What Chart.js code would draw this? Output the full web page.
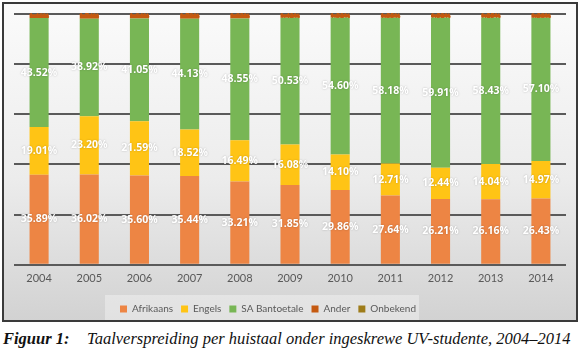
<!DOCTYPE html>
<html>
<head>
<meta charset="utf-8">
<script src="https://cdn.jsdelivr.net/npm/chart.js@4.4.1/dist/chart.umd.min.js"></script>
<style>
  html, body { margin: 0; padding: 0; background: #fff; }
  body { width: 580px; height: 350px; position: relative; overflow: hidden; }
  #box {
    position: absolute; left: 2px; top: 2px; width: 572px; height: 316px;
    border: 2px solid #3a3a3a;
    background: linear-gradient(to bottom, #fbfbfb 0%, #ececec 55%, #d2d2d2 100%);
  }
  #caption {
    position: absolute; left: 3px; top: 329px; white-space: nowrap;
    font-family: "Liberation Serif", "DejaVu Serif", serif; font-style: italic;
    font-size: 16.5px; color: #111;
  }
  #caption b { display: inline-block; width: 84px; }
</style>
</head>
<body>
<div id="box"><canvas id="chart" width="572" height="316"></canvas></div>
<div id="caption"><b>Figuur 1:</b>Taalverspreiding per huistaal onder ingeskrewe UV-studente, 2004–2014</div>
<script>
// years and share of students per home language (%)
var years = ["2004", "2005", "2006", "2007", "2008", "2009", "2010", "2011", "2012", "2013", "2014"];
var afrikaans = [35.89, 36.02, 35.60, 35.44, 33.21, 31.85, 29.86, 27.64, 26.21, 26.16, 26.43];
var engels = [19.01, 23.20, 21.59, 18.52, 16.49, 16.08, 14.10, 12.71, 12.44, 14.04, 14.97];
var bantoetale = [43.52, 38.92, 41.05, 44.13, 48.55, 50.53, 54.60, 58.18, 59.91, 58.43, 57.10];
var ander = [1.46, 1.74, 1.64, 1.79, 1.63, 1.42, 1.32, 1.35, 1.32, 1.25, 1.38];
var onbekend = [0.12, 0.12, 0.12, 0.12, 0.12, 0.12, 0.12, 0.12, 0.12, 0.12, 0.12];

// draws the percentage labels inside each segment
var barLabels = {
    id: "barLabels",
    afterDatasetsDraw: function (chart) {
        var ctx = chart.ctx;
        ctx.save();
        ctx.textAlign = "center";
        ctx.textBaseline = "middle";
        chart.data.datasets.forEach(function (ds, i) {
            var meta = chart.getDatasetMeta(i);
            if (i > 3) return;
            meta.data.forEach(function (bar, j) {
                var txt = ds.data[j].toFixed(2) + "%";
                if (i == 3) {
                    ctx.font = "bold 7px 'Open Sans'";
                    ctx.fillStyle = "#c55a11";
                    ctx.shadowBlur = 0;
                    ctx.fillText(txt, bar.x, bar.y + 2);
                } else {
                    ctx.font = "bold 10.5px 'Open Sans'";
                    ctx.fillStyle = "#ffffff";
                    ctx.shadowColor = "rgba(0,0,0,0.25)";
                    ctx.shadowBlur = 2;
                    ctx.fillText(txt, bar.x, (bar.y + bar.base) / 2);
                }
            });
        });
        ctx.restore();
    }
};

// nudge the legend a bit left/down and put a light panel behind it
var legendPanel = {
    id: "legendPanel",
    afterLayout: function (chart) {
        chart.legend.left -= 22;
        chart.legend.right -= 22;
        chart.legend.top += 4;
        chart.legend.bottom += 4;
    },
    beforeDraw: function (chart) {
        var lg = chart.legend;
        if (!lg || !lg.legendHitBoxes.length) return;
        var boxes = lg.legendHitBoxes;
        var x0 = boxes[0].left - 15;
        var last = boxes[boxes.length - 1];
        var x1 = last.left + last.width + 3;
        var ctx = chart.ctx;
        ctx.save();
        ctx.fillStyle = "rgba(255,255,255,0.35)";
        ctx.fillRect(x0, boxes[0].top - 9, x1 - x0, chart.height - boxes[0].top + 9);
        ctx.restore();
    }
};

var ctx = document.getElementById("chart").getContext("2d");
new Chart(ctx, {
    type: "bar",
    data: {
        labels: years,
        datasets: [
            { label: "Afrikaans", data: afrikaans, backgroundColor: "#ed8544" },
            { label: "Engels", data: engels, backgroundColor: "#ffc415" },
            { label: "SA Bantoetale", data: bantoetale, backgroundColor: "#78b655" },
            { label: "Ander", data: ander, backgroundColor: "#c55a11" },
            { label: "Onbekend", data: onbekend, backgroundColor: "#9e7c1a" }
        ]
    },
    options: {
        responsive: false,
        animation: false,
        barPercentage: 0.38,
        categoryPercentage: 1,
        layout: { padding: { left: 10, right: 10, top: 10, bottom: 0 } },
        scales: {
            x: {
                stacked: true,
                grid: { display: false, drawTicks: false },
                border: { display: false },
                ticks: { color: "#595959", font: { family: "Lato", size: 11 }, padding: 7 }
            },
            y: {
                stacked: true,
                min: 0,
                max: 100,
                ticks: { display: false, stepSize: 20 },
                border: { display: false },
                grid: { color: "#5a5a5a", lineWidth: 2, drawTicks: false }
            }
        },
        plugins: {
            legend: {
                position: "bottom",
                labels: {
                    boxWidth: 7,
                    boxHeight: 7,
                    padding: 8,
                    color: "#595959",
                    font: { family: "Lato", size: 10 }
                }
            },
            tooltip: { enabled: false }
        }
    },
    plugins: [legendPanel, barLabels]
});
</script>
</body>
</html>
